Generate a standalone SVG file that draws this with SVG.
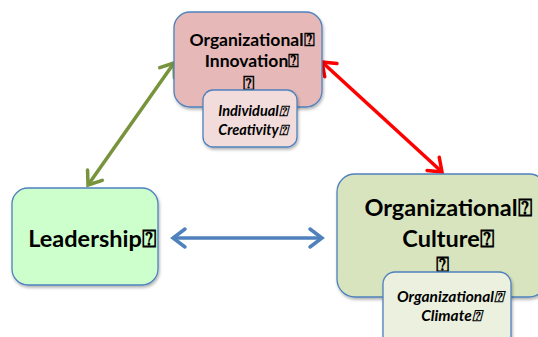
<svg xmlns="http://www.w3.org/2000/svg" width="538" height="337" viewBox="0 0 538 337">
<defs>
<filter id="sh" x="-10%" y="-10%" width="130%" height="130%">
<feDropShadow dx="1" dy="2" stdDeviation="1.5" flood-color="#000" flood-opacity="0.3"/>
</filter>
<marker id="hg" markerUnits="userSpaceOnUse" viewBox="-16 -12 20 24" markerWidth="20" markerHeight="24" refX="0" refY="0" orient="auto-start-reverse" overflow="visible">
<path d="M-12,-9 L0,0 L-12,9" fill="none" stroke="#77933c" stroke-width="3.5" stroke-linecap="round" stroke-linejoin="miter"/>
</marker>
<marker id="hr" markerUnits="userSpaceOnUse" viewBox="-16 -12 20 24" markerWidth="20" markerHeight="24" refX="0" refY="0" orient="auto-start-reverse" overflow="visible">
<path d="M-12,-9 L0,0 L-12,9" fill="none" stroke="#ff0000" stroke-width="3.5" stroke-linecap="round" stroke-linejoin="miter"/>
</marker>
<marker id="hb" markerUnits="userSpaceOnUse" viewBox="-16 -12 20 24" markerWidth="20" markerHeight="24" refX="0" refY="0" orient="auto-start-reverse" overflow="visible">
<path d="M-12,-9 L0,0 L-12,9" fill="none" stroke="#4f81bd" stroke-width="3.5" stroke-linecap="round" stroke-linejoin="miter"/>
</marker>
</defs>
<style>
.box{stroke:#4f81bd;stroke-width:1.3;filter:url(#sh)}
.t{font-family:Lato,"Open Sans","Liberation Sans",sans-serif;font-weight:bold;fill:#000;text-anchor:middle}
.i{font-style:italic}
.c{fill:none;stroke-width:3.5}
</style>
<rect width="538" height="337" fill="#fff"/>
<g id="connectors">
<line class="c" x1="88" y1="185" x2="174" y2="63" stroke="#77933c" marker-start="url(#hg)" marker-end="url(#hg)"/>
<line class="c" x1="322" y1="62" x2="442" y2="172" stroke="#ff0000" marker-start="url(#hr)" marker-end="url(#hr)"/>
<line class="c" x1="173" y1="238" x2="322" y2="238" stroke="#4f81bd" marker-start="url(#hb)" marker-end="url(#hb)"/>
</g>
<g id="innovation">
<rect class="box" x="174" y="12" width="148" height="95" rx="16" fill="#e6b9b8"/>
<text class="t" x="252" y="46" font-size="17.5">Organizational⍰</text>
<text class="t" x="252" y="67" font-size="17.5">Innovation⍰</text>
<text class="t" x="248" y="90" font-size="19">⍰</text>
</g>
<g id="creativity">
<rect class="box" x="203" y="90" width="94" height="57" rx="10" fill="#f2dcdb"/>
<text class="t i" x="253" y="116" font-size="14.5">Individual⍰</text>
<text class="t i" x="253" y="135" font-size="14.5">Creativity⍰</text>
</g>
<g id="leadership">
<rect class="box" x="12" y="188" width="146" height="97" rx="16" fill="#ccffcc"/>
<text class="t" x="92" y="247" font-size="23.5">Leadership⍰</text>
</g>
<g id="culture">
<rect class="box" x="337" y="174" width="210" height="123" rx="18" fill="#d7e4bd"/>
<text class="t" x="448" y="216" font-size="23.5">Organizational⍰</text>
<text class="t" x="448" y="247" font-size="23.5">Culture⍰</text>
<text class="t" x="442" y="272" font-size="22">⍰</text>
</g>
<g id="climate">
<rect class="box" x="383" y="272" width="128" height="80" rx="12" fill="#ebf1de"/>
<text class="t i" x="450" y="302" font-size="15.5">Organizational⍰</text>
<text class="t i" x="451" y="321" font-size="15.5">Climate⍰</text>
</g>
</svg>
